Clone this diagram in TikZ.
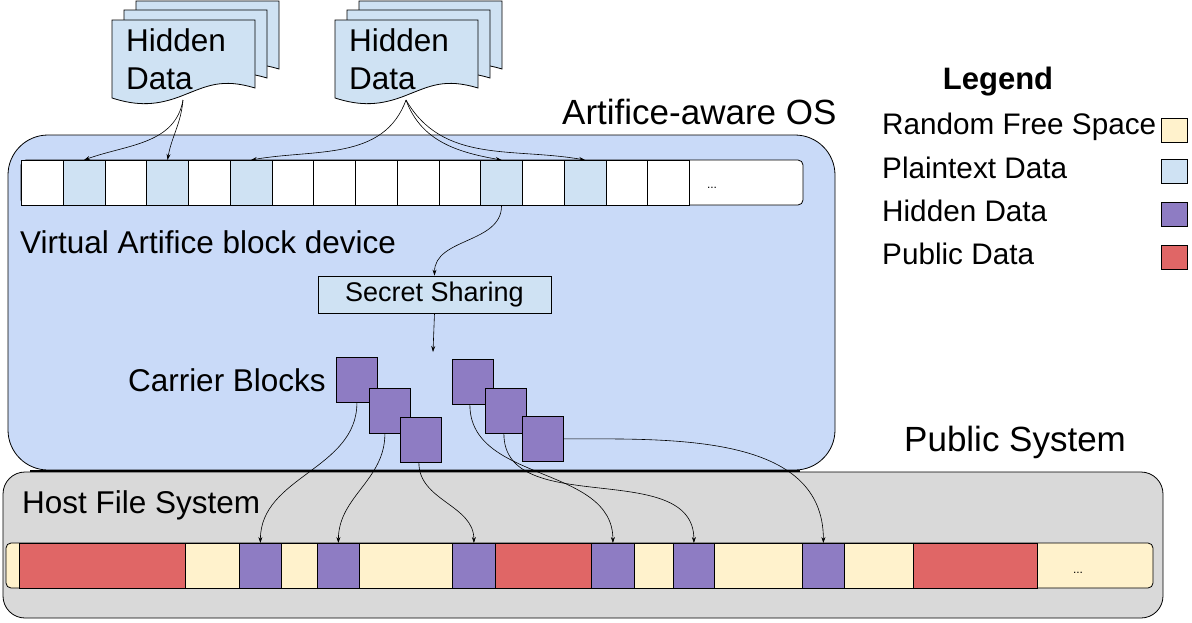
\documentclass[tikz,border=0pt]{standalone}
\usepackage{fontspec}
\setmainfont{Liberation Sans}
\usetikzlibrary{arrows.meta}
\definecolor{lblue}{HTML}{CFE2F3}
\definecolor{osblue}{HTML}{C9DAF8}
\definecolor{cream}{HTML}{FFF2CC}
\definecolor{hred}{HTML}{E06666}
\definecolor{hpur}{HTML}{8E7CC3}
\definecolor{hgray}{HTML}{D9D9D9}
\begin{document}
\begin{tikzpicture}[x=1pt,y=-1pt,
  big/.style={font=\fontsize{31.5}{38}\selectfont,inner sep=0},
  huge/.style={font=\fontsize{35}{38}\selectfont,inner sep=0},
  leg/.style={font=\fontsize{29.7}{34}\selectfont,inner sep=0},
  cell/.style={draw=black,line width=0.8pt},
  arr/.style={-{Stealth[length=6pt,width=4pt]},line width=0.6pt},
  docsh/.style={draw=black,fill=lblue,line width=0.8pt}]
\useasboundingbox (0,0) rectangle (1192,622);
\newcommand{\mydoc}[2]{%
  \path[docsh] (#1,#2) -- (#1+143,#2) -- (#1+143,#2+68)
    .. controls (#1+110,#2+58) and (#1+95,#2+66) .. (#1+72,#2+75)
    .. controls (#1+45,#2+86) and (#1+25,#2+86) .. (#1,#2+78) -- cycle;}
% documents
\foreach \dx in {0,223}{
  \mydoc{136+\dx}{1}\mydoc{124+\dx}{10}\mydoc{112+\dx}{20}}
\node[big,anchor=north west,align=left] (d1) at (126,28) {Hidden\\Data};
\node[big,anchor=north west,align=left] (d2) at (349,28) {Hidden\\Data};
\coordinate (d1b) at (183,100);
\coordinate (d2b) at (406,100);
% OS box
\draw[fill=osblue,line width=0.8pt,rounded corners=40] (8,135) rectangle (835,470);
\node[huge,anchor=west] (os) at (562,112) {Artifice-aware OS};
% Gray box
\draw[fill=hgray,line width=0.8pt,rounded corners=22] (3,472) rectangle (1163,618);
\draw[line width=2pt] (30,471) -- (800,471);
\node[huge,anchor=west] (ps) at (904,442) {Public System};
\node[big,anchor=west] (hfs) at (22,505) {Host File System};
% block row
\draw[fill=white,line width=0.8pt,rounded corners=5] (21,160) rectangle (803,205);
\foreach \i in {0,...,15}{
  \pgfmathsetmacro{\xa}{21+41.75*\i}
  \ifnum\i=1 \def\fc{lblue}\else\ifnum\i=3 \def\fc{lblue}\else\ifnum\i=5 \def\fc{lblue}\else\ifnum\i=11 \def\fc{lblue}\else\ifnum\i=13 \def\fc{lblue}\else\def\fc{white}\fi\fi\fi\fi\fi
  \node[cell,fill=\fc,minimum width=41.75pt,minimum height=45pt,inner sep=0,anchor=north west] (c\i) at (\xa,160) {};
}
\node[font=\fontsize{12}{12}\selectfont] (dots1) at (712,188) {...};
\node[big,anchor=west] (vab) at (20,242) {Virtual Artifice block device};
% arrows from docs
\draw[arr] (d1b) to[out=-100,in=20] (c1.north);
\draw[arr] (d1b) to[out=-95,in=80] (c3.north);
\draw[arr] (d2b) to[out=-110,in=10] (c5.north);
\draw[arr] (d2b) to[out=-70,in=170] (c11.north);
\draw[arr] (d2b) to[out=-60,in=170] (c13.north);
% secret sharing
\node[draw=black,fill=lblue,line width=0.8pt,minimum width=233pt,minimum height=37pt,inner sep=0,font=\fontsize{27}{30}\selectfont] (ss) at (434.5,294.5) {Secret Sharing};
\draw[arr] (c11.south) to[out=-90,in=90] (ss.north);
\coordinate (ssb) at (433,352);
\draw[arr] (ss.south) -- (ssb);
\node[big,anchor=east] (cb) at (326,380) {Carrier Blocks};
% carrier blocks
\tikzset{carr/.style={draw=black,fill=hpur,line width=0.8pt,minimum width=41pt,minimum height=45pt,inner sep=0,anchor=north west}}
\node[carr] (A) at (336,357) {};
\node[carr] (B) at (369,388) {};
\node[carr] (C) at (400,417) {};
\node[carr] (D) at (452,359) {};
\node[carr] (E) at (485,388) {};
\node[carr] (F) at (522,416) {};
% bottom bar
\draw[fill=cream,line width=0.8pt,rounded corners=5] (6,543) rectangle (1153,588);
\foreach \a/\b/\c/\n in {19/185/hred/r1,185/239/cream/f1,239/281/hpur/p1,281/317/cream/f2,317/359/hpur/p2,359/452/cream/f3,452/495/hpur/p3,495/591/hred/r2,591/634/hpur/p4,634/673/cream/f4,673/714/hpur/p5,714/802/cream/f5,802/844/hpur/p6,844/913/cream/f6,913/1037/hred/r3}{
  \pgfmathsetmacro{\w}{\b-\a}
  \node[cell,fill=\c,minimum width=\w pt,minimum height=45pt,inner sep=0,anchor=north west] (\n) at (\a,543) {};
}
\node[font=\fontsize{12}{12}\selectfont] (dots2) at (1078,573) {...};
% carrier arrows
\draw[arr] (A.south) to[out=-90,in=90] (p1.north);
\draw[arr] ([xshift=-5pt]B.south) to[out=-90,in=90] (p2.north);
\draw[arr] ([xshift=-2pt]C.south) to[out=-90,in=90] (p3.north);
\draw[arr] ([xshift=-3pt]D.south) to[out=-90,in=90] (p4.north);
\draw[arr] ([xshift=-2pt]E.south) to[out=-90,in=90] (p5.north);
\draw[arr] (F.east) to[out=0,in=90] (p6.north);
% legend
\node[font=\fontsize{31}{34}\selectfont\bfseries] (lg) at (998,82) {Legend};
\foreach \t/\c/\y/\n in {Random Free Space/cream/127/l1,Plaintext Data/lblue/168/l2,Hidden Data/hpur/211/l3,Public Data/hred/254/l4}{
  \node[leg,anchor=west] (\n) at (882,\y) {\t};
  \node[draw=black,fill=\c,line width=0.8pt,minimum width=26pt,minimum height=24pt,inner sep=0] (\n s) at (1174,\y+3) {};
}
\end{tikzpicture}
\end{document}
